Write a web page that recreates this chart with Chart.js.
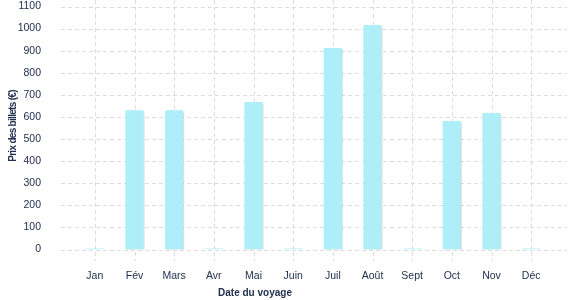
<!DOCTYPE html>
<html>
<head>
<meta charset="utf-8">
<script src="https://cdn.jsdelivr.net/npm/chart.js@4"></script>
<style>
html,body{margin:0;padding:0;background:#fff;}
#wrap{width:577px;height:300px;position:relative;}
</style>
</head>
<body>
<div id="wrap"><canvas id="c" width="577" height="300"></canvas></div>
<script>
const months = ["Jan","Fév","Mars","Avr","Mai","Juin","Juil","Août","Sept","Oct","Nov","Déc"];
const prices = [5, 630, 630, 5, 668, 5, 912, 1016, 5, 582, 618, 5];
const yTicks = [0,100,200,300,400,500,600,700,800,900,1000,1100];
const xTitle = "Date du voyage";
const yTitle = "Prix des billets (€)";

const textColor = "#22304f";
const gridColor = "#dddddd";
const fontFam = "'Liberation Sans', Arial, sans-serif";

const gridPlugin = {
  id: "gridPlugin",
  beforeDatasetsDraw(chart) {
    const ctx = chart.ctx;
    const xs = chart.scales.x, ys = chart.scales.y;
    ctx.save();
    ctx.strokeStyle = gridColor;
    ctx.lineWidth = 1;
    ctx.setLineDash([4, 3]);
    months.forEach((m, i) => {
      const x = Math.round(xs.getPixelForValue(i)) + 0.5;
      ctx.beginPath();
      ctx.moveTo(x, 0);
      ctx.lineTo(x, 261);
      ctx.stroke();
    });
    yTicks.forEach(v => {
      const y = Math.round(ys.getPixelForValue(v)) + 0.5;
      ctx.beginPath();
      ctx.moveTo(61, y);
      ctx.lineTo(567, y);
      ctx.stroke();
    });
    ctx.restore();
    ctx.save();
    ctx.shadowColor = "rgba(0,0,0,0.12)";
    ctx.shadowOffsetX = 1;
    ctx.shadowOffsetY = 2;
    ctx.shadowBlur = 0;
  },
  afterDatasetsDraw(chart) {
    chart.ctx.restore();
  },
  afterDraw(chart) {
    const ctx = chart.ctx;
    const ys = chart.scales.y;
    ctx.save();
    ctx.fillStyle = textColor;
    ctx.font = "bold 10px " + fontFam;
    ctx.textAlign = "center";
    ctx.textBaseline = "middle";
    ctx.fillText(xTitle, 255, 293);
    ctx.restore();
    ctx.save();
    ctx.fillStyle = textColor;
    ctx.font = "bold 10px " + fontFam;
    if ("letterSpacing" in ctx) ctx.letterSpacing = "-0.7px";
    ctx.textAlign = "center";
    ctx.textBaseline = "middle";
    ctx.translate(13.5, 126);
    ctx.rotate(-Math.PI / 2);
    ctx.fillText(yTitle, 0, 0);
    ctx.restore();
  }
};

new Chart(document.getElementById("c"), {
  type: "bar",
  data: {
    labels: months,
    datasets: [{
      data: prices,
      backgroundColor: "#adeef8",
      borderWidth: 0,
      barPercentage: 0.46,
      categoryPercentage: 1
    }]
  },
  options: {
    responsive: false,
    animation: false,
    devicePixelRatio: 1,
    layout: { padding: { top: 6.5, right: 26, left: 0, bottom: 0 } },
    plugins: { legend: { display: false }, tooltip: { enabled: false } },
    scales: {
      x: {
        offset: true,
        grid: { display: false },
        border: { display: false },
        ticks: {
          color: textColor,
          font: { family: fontFam, size: 10.5 },
          padding: 12,
          maxRotation: 0
        },
        afterFit(s) { s.height = 50.5; s.paddingLeft = 0; s.paddingRight = 0; }
      },
      y: {
        min: 0,
        max: 1100,
        grid: { display: false },
        border: { display: false },
        afterBuildTicks(s) { s.ticks = yTicks.map(v => ({ value: v })); },
        ticks: {
          color: textColor,
          font: { family: fontFam, size: 10.5 },
          padding: 26,
          callback: v => String(v)
        },
        afterFit(s) { s.width = 75; s.paddingTop = 0; s.paddingBottom = 0; }
      }
    }
  },
  plugins: [gridPlugin]
});
</script>
</body>
</html>
